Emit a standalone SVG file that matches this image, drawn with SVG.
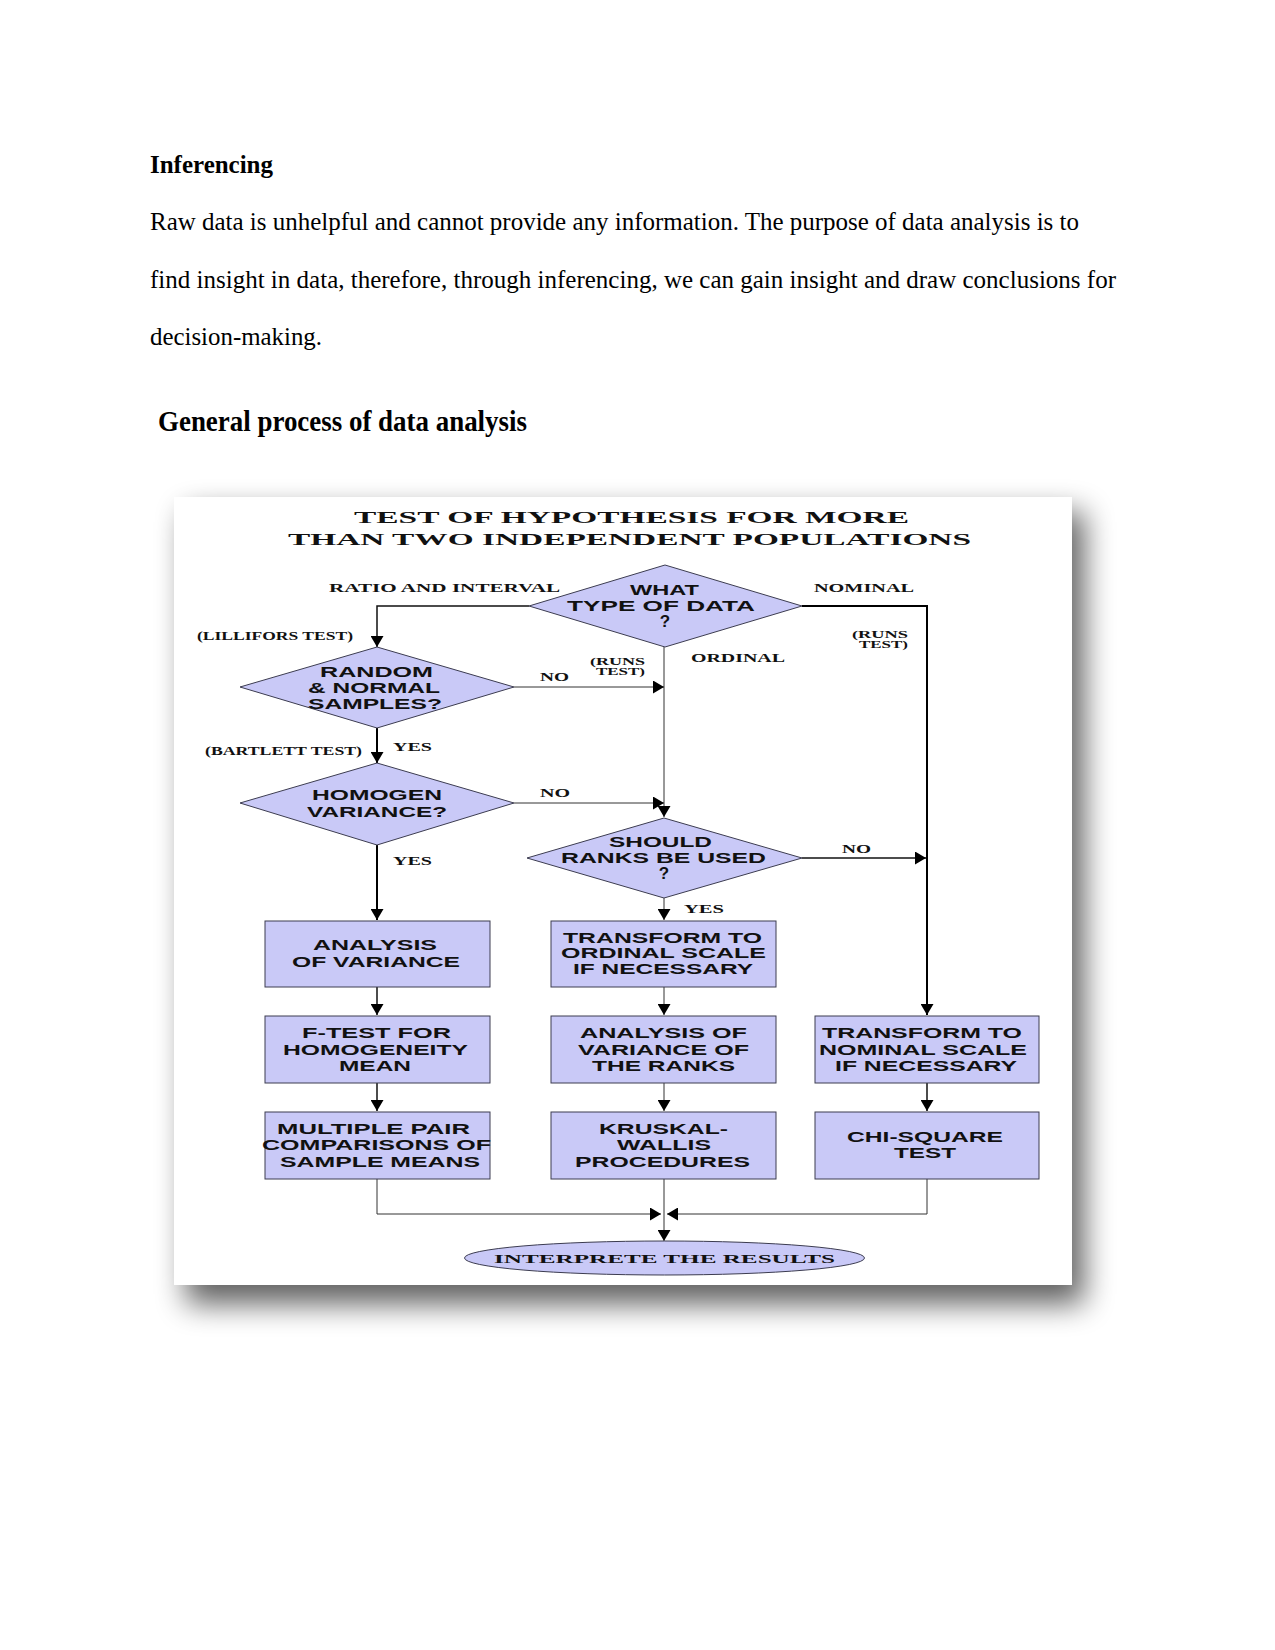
<svg xmlns="http://www.w3.org/2000/svg" width="1275" height="1650" viewBox="0 0 1275 1650">
<defs>
<style>
.body{font-family:"Liberation Serif","Times New Roman",serif;font-size:25px;fill:#000}
.bold{font-weight:bold}
.n{font-family:"Liberation Sans",Arial,sans-serif;font-weight:bold;font-size:15px;fill:#111}
.s{font-family:"Liberation Serif","Times New Roman",serif;font-weight:bold;font-size:12px;fill:#111}
.t{font-family:"Liberation Serif","Times New Roman",serif;font-weight:bold;font-size:17px;fill:#111}
.shape{fill:#c9c9f7;stroke:#3c3c50;stroke-width:1}
.thick{fill:none;stroke:#000;stroke-width:2}
.mid{fill:none;stroke:#111;stroke-width:1.5}
.thin{fill:none;stroke:#333;stroke-width:1}
</style>
<marker id="arr" markerUnits="userSpaceOnUse" markerWidth="13" markerHeight="13" refX="11" refY="6.5" orient="auto">
<path d="M0,0 L11,6.5 L0,13 z" fill="#000"/>
</marker>
<filter id="sh" x="-15%" y="-15%" width="140%" height="140%">
<feGaussianBlur stdDeviation="15"/>
</filter>
</defs>

<g id="page-text">
<text class="body bold" x="150" y="173" textLength="123" lengthAdjust="spacingAndGlyphs">Inferencing</text>
<text class="body" x="150" y="230" textLength="929" lengthAdjust="spacingAndGlyphs">Raw data is unhelpful and cannot provide any information. The purpose of data analysis is to</text>
<text class="body" x="150" y="288" textLength="966" lengthAdjust="spacingAndGlyphs">find insight in data, therefore, through inferencing, we can gain insight and draw conclusions for</text>
<text class="body" x="150" y="345" textLength="172" lengthAdjust="spacingAndGlyphs">decision-making.</text>
<text class="body bold" x="158" y="431" style="font-size:29px" textLength="369" lengthAdjust="spacingAndGlyphs">General process of data analysis</text>
</g>

<g id="frame">
<rect x="186" y="512" width="898" height="792" fill="#000" opacity="0.62" filter="url(#sh)"/>
<rect x="174" y="497" width="898" height="788" fill="#fff"/>
</g>

<g id="title">
<text class="t" x="354" y="523" textLength="555" lengthAdjust="spacingAndGlyphs">TEST OF HYPOTHESIS FOR MORE</text>
<text class="t" x="288" y="545" textLength="683" lengthAdjust="spacingAndGlyphs">THAN TWO INDEPENDENT POPULATIONS</text>
</g>

<g id="connectors">
<polyline class="mid" points="529,606 377,606 377,647" marker-end="url(#arr)"/>
<polyline class="thick" points="802,606 927,606 927,1015" marker-end="url(#arr)"/>
<line class="thin" x1="664" y1="647" x2="664" y2="817" marker-end="url(#arr)"/>
<line class="thin" x1="514" y1="687" x2="664" y2="687" marker-end="url(#arr)"/>
<line class="thick" x1="377" y1="728" x2="377" y2="763" marker-end="url(#arr)"/>
<line class="thin" x1="514" y1="803" x2="664" y2="803" marker-end="url(#arr)"/>
<line class="thick" x1="377" y1="845" x2="377" y2="920" marker-end="url(#arr)"/>
<line class="mid" x1="802" y1="858" x2="926" y2="858" marker-end="url(#arr)"/>
<line class="thin" x1="664" y1="898" x2="664" y2="920" marker-end="url(#arr)"/>
<line class="mid" x1="377" y1="987" x2="377" y2="1015" marker-end="url(#arr)"/>
<line class="mid" x1="377" y1="1083" x2="377" y2="1111" marker-end="url(#arr)"/>
<line class="thin" x1="664" y1="987" x2="664" y2="1015" marker-end="url(#arr)"/>
<line class="thin" x1="664" y1="1083" x2="664" y2="1111" marker-end="url(#arr)"/>
<line class="mid" x1="927" y1="1083" x2="927" y2="1111" marker-end="url(#arr)"/>
<polyline class="thin" points="377,1179 377,1214 661,1214" marker-end="url(#arr)"/>
<polyline class="thin" points="927,1179 927,1214 667,1214" marker-end="url(#arr)"/>
<line class="thin" x1="664" y1="1179" x2="664" y2="1241" marker-end="url(#arr)"/>
</g>

<g id="labels">
<text class="s" x="329" y="592" textLength="231" lengthAdjust="spacingAndGlyphs">RATIO AND INTERVAL</text>
<text class="s" x="814" y="592" textLength="100" lengthAdjust="spacingAndGlyphs">NOMINAL</text>
<text class="s" x="197" y="640" textLength="156" lengthAdjust="spacingAndGlyphs">(LILLIFORS TEST)</text>
<text class="s" x="852" y="638" textLength="56" lengthAdjust="spacingAndGlyphs" style="font-size:11px">(RUNS</text>
<text class="s" x="859" y="648" textLength="49" lengthAdjust="spacingAndGlyphs" style="font-size:11px">TEST)</text>
<text class="s" x="691" y="662" textLength="94" lengthAdjust="spacingAndGlyphs">ORDINAL</text>
<text class="s" x="590" y="665" textLength="55" lengthAdjust="spacingAndGlyphs" style="font-size:11px">(RUNS</text>
<text class="s" x="596" y="675" textLength="49" lengthAdjust="spacingAndGlyphs" style="font-size:11px">TEST)</text>
<text class="s" x="540" y="681" textLength="29" lengthAdjust="spacingAndGlyphs">NO</text>
<text class="s" x="393" y="751" textLength="39" lengthAdjust="spacingAndGlyphs">YES</text>
<text class="s" x="205" y="755" textLength="157" lengthAdjust="spacingAndGlyphs">(BARTLETT TEST)</text>
<text class="s" x="540" y="797" textLength="30" lengthAdjust="spacingAndGlyphs">NO</text>
<text class="s" x="393" y="865" textLength="39" lengthAdjust="spacingAndGlyphs">YES</text>
<text class="s" x="842" y="853" textLength="29" lengthAdjust="spacingAndGlyphs">NO</text>
<text class="s" x="684" y="913" textLength="40" lengthAdjust="spacingAndGlyphs">YES</text>
</g>

<g id="what-type">
<polygon class="shape" points="665,565 802,606 665,647 529,606"/>
<text class="n" x="630" y="595" textLength="69" lengthAdjust="spacingAndGlyphs">WHAT</text>
<text class="n" x="567" y="611" textLength="188" lengthAdjust="spacingAndGlyphs">TYPE  OF DATA</text>
<text class="n" x="665" y="627" text-anchor="middle" style="font-size:17px">?</text>
</g>

<g id="random-normal">
<polygon class="shape" points="377,647 514,687 377,728 240,687"/>
<text class="n" x="320" y="677" textLength="113" lengthAdjust="spacingAndGlyphs">RANDOM</text>
<text class="n" x="308" y="693" textLength="132" lengthAdjust="spacingAndGlyphs">&amp; NORMAL</text>
<text class="n" x="308" y="709" textLength="134" lengthAdjust="spacingAndGlyphs">SAMPLES?</text>
</g>

<g id="homogen">
<polygon class="shape" points="377,763 514,803 377,845 240,803"/>
<text class="n" x="312" y="800" textLength="130" lengthAdjust="spacingAndGlyphs">HOMOGEN</text>
<text class="n" x="307" y="817" textLength="140" lengthAdjust="spacingAndGlyphs">VARIANCE?</text>
</g>

<g id="should-ranks">
<polygon class="shape" points="664,818 802,858 664,898 527,858"/>
<text class="n" x="609" y="847" textLength="103" lengthAdjust="spacingAndGlyphs">SHOULD</text>
<text class="n" x="561" y="863" textLength="205" lengthAdjust="spacingAndGlyphs">RANKS BE USED</text>
<text class="n" x="664" y="879" text-anchor="middle" style="font-size:17px">?</text>
</g>

<g id="anova">
<rect class="shape" x="265" y="921" width="225" height="66"/>
<text class="n" x="313" y="950" textLength="124" lengthAdjust="spacingAndGlyphs">ANALYSIS</text>
<text class="n" x="292" y="967" textLength="168" lengthAdjust="spacingAndGlyphs">OF VARIANCE</text>
</g>

<g id="transform-ordinal">
<rect class="shape" x="551" y="921" width="225" height="66"/>
<text class="n" x="563" y="943" textLength="199" lengthAdjust="spacingAndGlyphs">TRANSFORM TO</text>
<text class="n" x="561" y="958" textLength="205" lengthAdjust="spacingAndGlyphs">ORDINAL SCALE</text>
<text class="n" x="573" y="974" textLength="180" lengthAdjust="spacingAndGlyphs">IF NECESSARY</text>
</g>

<g id="f-test">
<rect class="shape" x="265" y="1016" width="225" height="67"/>
<text class="n" x="302" y="1038" textLength="149" lengthAdjust="spacingAndGlyphs">F-TEST FOR</text>
<text class="n" x="283" y="1055" textLength="185" lengthAdjust="spacingAndGlyphs">HOMOGENEITY</text>
<text class="n" x="339" y="1071" textLength="72" lengthAdjust="spacingAndGlyphs">MEAN</text>
</g>

<g id="anova-ranks">
<rect class="shape" x="551" y="1016" width="225" height="67"/>
<text class="n" x="580" y="1038" textLength="167" lengthAdjust="spacingAndGlyphs">ANALYSIS OF</text>
<text class="n" x="578" y="1055" textLength="171" lengthAdjust="spacingAndGlyphs">VARIANCE OF</text>
<text class="n" x="592" y="1071" textLength="143" lengthAdjust="spacingAndGlyphs">THE RANKS</text>
</g>

<g id="transform-nominal">
<rect class="shape" x="815" y="1016" width="224" height="67"/>
<text class="n" x="822" y="1038" textLength="200" lengthAdjust="spacingAndGlyphs">TRANSFORM TO</text>
<text class="n" x="819" y="1055" textLength="208" lengthAdjust="spacingAndGlyphs">NOMINAL SCALE</text>
<text class="n" x="835" y="1071" textLength="182" lengthAdjust="spacingAndGlyphs">IF NECESSARY</text>
</g>

<g id="multiple-pair">
<rect class="shape" x="265" y="1112" width="225" height="67"/>
<text class="n" x="277" y="1134" textLength="193" lengthAdjust="spacingAndGlyphs">MULTIPLE PAIR</text>
<text class="n" x="262" y="1150" textLength="229" lengthAdjust="spacingAndGlyphs">COMPARISONS OF</text>
<text class="n" x="280" y="1167" textLength="200" lengthAdjust="spacingAndGlyphs">SAMPLE MEANS</text>
</g>

<g id="kruskal-wallis">
<rect class="shape" x="551" y="1112" width="225" height="67"/>
<text class="n" x="599" y="1134" textLength="129" lengthAdjust="spacingAndGlyphs">KRUSKAL-</text>
<text class="n" x="617" y="1150" textLength="94" lengthAdjust="spacingAndGlyphs">WALLIS</text>
<text class="n" x="575" y="1167" textLength="175" lengthAdjust="spacingAndGlyphs">PROCEDURES</text>
</g>

<g id="chi-square">
<rect class="shape" x="815" y="1112" width="224" height="67"/>
<text class="n" x="847" y="1142" textLength="156" lengthAdjust="spacingAndGlyphs">CHI-SQUARE</text>
<text class="n" x="894" y="1158" textLength="62" lengthAdjust="spacingAndGlyphs">TEST</text>
</g>

<g id="interprete">
<ellipse class="shape" cx="664.5" cy="1258" rx="200" ry="17"/>
<text class="s" x="494" y="1263" textLength="341" lengthAdjust="spacingAndGlyphs" style="font-size:13px">INTERPRETE THE RESULTS</text>
</g>
</svg>
